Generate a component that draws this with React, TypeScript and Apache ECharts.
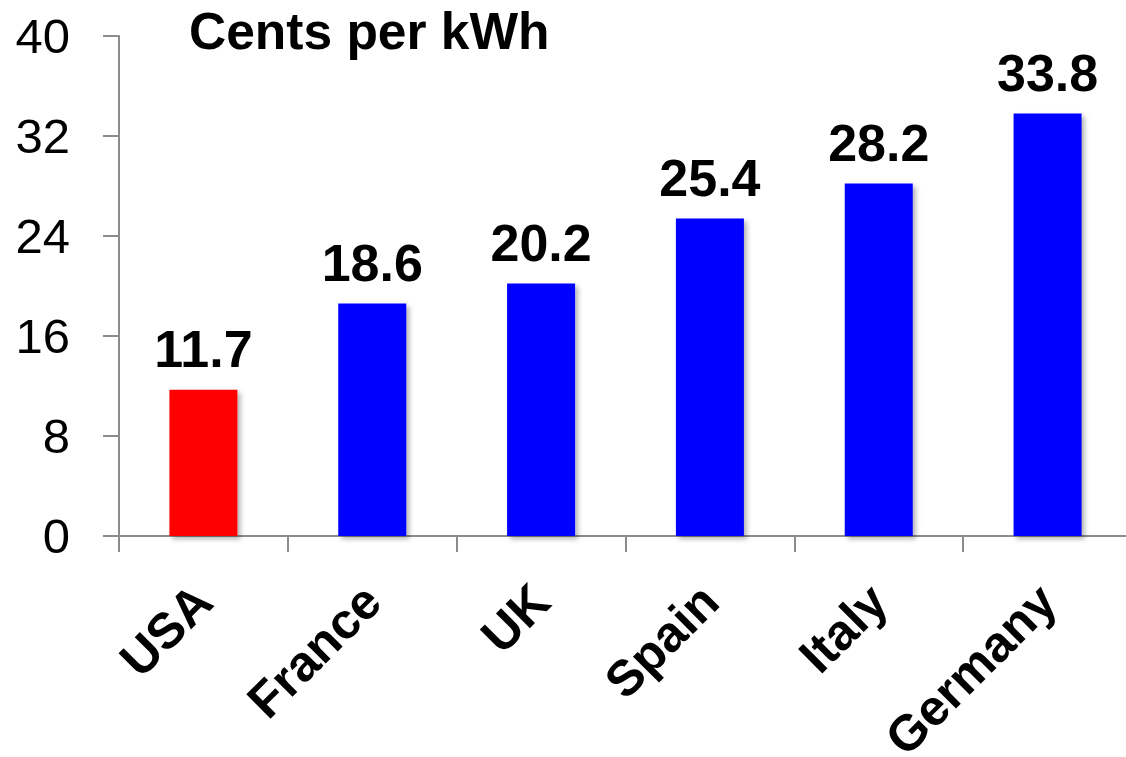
import React, { useEffect, useRef } from "react";
import * as echarts from "echarts";

const categories = ["USA", "France", "UK", "Spain", "Italy", "Germany"];
const values = [11.7, 18.6, 20.2, 25.4, 28.2, 33.8];
const barColors = ["#ff0000", "#0000ff", "#0000ff", "#0000ff", "#0000ff", "#0000ff"];
const titleText = "Cents per kWh";

const FONT = "'Liberation Sans', Arial, Helvetica, sans-serif";

export default function App() {
  const ref = useRef<HTMLDivElement>(null);
  useEffect(() => {
    if (!ref.current) return;
    const chart = echarts.init(ref.current, null, { renderer: "svg" });
    chart.setOption({
      animation: false,
      backgroundColor: "#ffffff",
      title: {
        text: titleText,
        left: 184,
        top: 0,
        textStyle: { fontFamily: FONT, fontSize: 51.5, fontWeight: "bold", color: "#000" },
      },
      grid: {
        left: 119,
        right: -6,
        top: 36,
        bottom: 221,
        containLabel: false,
        outerBoundsMode: "none",
      },
      xAxis: {
        type: "category",
        data: categories,
        axisLine: { lineStyle: { color: "#8c8c8c", width: 2 } },
        axisTick: { show: true, length: 16, lineStyle: { color: "#8c8c8c", width: 2 } },
        axisLabel: {
          rotate: 45,
          margin: 57,
          fontFamily: FONT,
          fontSize: 50,
          fontWeight: "bold",
          color: "#000",
        },
      },
      yAxis: {
        type: "value",
        min: 0,
        max: 40,
        interval: 8,
        axisLine: { show: true, lineStyle: { color: "#8c8c8c", width: 2 } },
        axisTick: { show: true, length: 16, lineStyle: { color: "#8c8c8c", width: 2 } },
        splitLine: { show: false },
        axisLabel: {
          margin: 49,
          fontFamily: FONT,
          fontSize: 49,
          color: "#000",
        },
      },
      series: [
        {
          type: "bar",
          data: values.map((v, i) => ({ value: v, itemStyle: { color: barColors[i] } })),
          barWidth: 68,
          itemStyle: {
            shadowColor: "rgba(0,0,0,0.3)",
            shadowBlur: 5,
            shadowOffsetX: 3,
            shadowOffsetY: 3,
          },
          label: {
            show: true,
            position: "top",
            distance: 15,
            fontFamily: FONT,
            fontSize: 52,
            fontWeight: "bold",
            color: "#000",
          },
        },
      ],
    });
    return () => chart.dispose();
  }, []);
  return (
    <div
      ref={ref}
      style={{ position: "absolute", left: 0, top: 0, width: 1126, height: 757 }}
    />
  );
}
